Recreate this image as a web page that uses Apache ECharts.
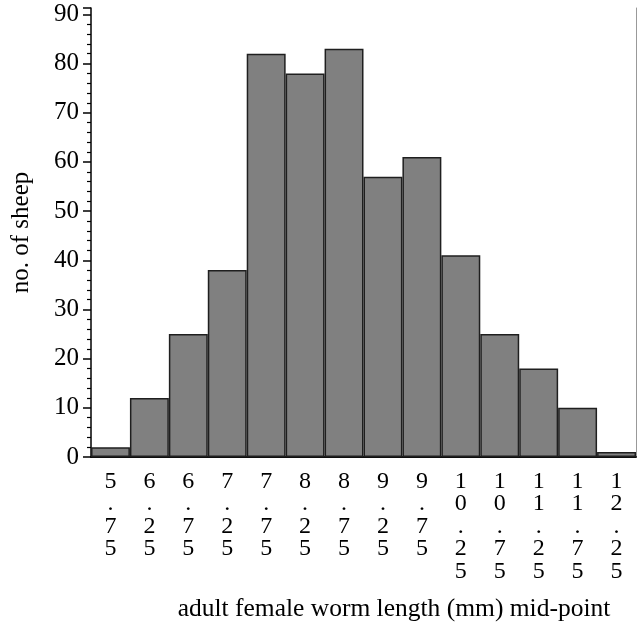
<!DOCTYPE html>
<html>
<head>
<meta charset="utf-8">
<script src="https://cdn.jsdelivr.net/npm/echarts@6/dist/echarts.min.js"></script>
<style>
  html, body { margin: 0; padding: 0; background: #fff; }
  #chart { width: 640px; height: 625px; }
</style>
</head>
<body>
<div id="chart"></div>
<script>
const categories = ['5.75', '6.25', '6.75', '7.25', '7.75', '8.25', '8.75',
  '9.25', '9.75', '10.25', '10.75', '11.25', '11.75', '12.25']
const sheepCounts = [2, 12, 25, 38, 82, 78, 83, 57, 61, 41, 25, 18, 10, 1]
const yTicks = [0, 10, 20, 30, 40, 50, 60, 70, 80, 90]

const serif = 'Liberation Serif'
const chart = echarts.init(document.getElementById('chart'))

chart.setOption({
  animation: false,
  textStyle: { fontFamily: serif },
  title: {
    text: 'adult female worm length (mm) mid-point',
    left: 389,
    top: 591,
    textAlign: 'center',
    textStyle: { fontFamily: serif, fontSize: 25.5, fontWeight: 'normal', color: '#000' }
  },
  grid: { left: 91, right: 4, top: 8, bottom: 168 },
  xAxis: [{
    type: 'category',
    data: categories,
    boundaryGap: true,
    axisLine: { lineStyle: { color: '#000', width: 1.5 } },
    axisTick: { show: false },
    axisLabel: {
      color: '#000',
      fontSize: 24,
      lineHeight: 22.5,
      margin: 13,
      interval: 0,
      verticalAlign: 'top',
      formatter: v => v.split('').join('\n')
    }
  }, {
    type: 'category',
    data: categories,
    position: 'top',
    axisLine: { lineStyle: { color: '#000', width: 1.5 } },
    axisTick: { show: false },
    axisLabel: { show: false }
  }],
  yAxis: [{
    type: 'value',
    min: 0,
    max: 91.3,
    interval: 10,
    name: 'no. of sheep',
    nameLocation: 'middle',
    nameGap: 57,
    nameTextStyle: { fontFamily: serif, fontSize: 25, color: '#000' },
    axisLine: { show: true, lineStyle: { color: '#000', width: 1.5 } },
    axisTick: { show: true, inside: false, length: 8, lineStyle: { color: '#000', width: 1.5 } },
    minorTick: { show: true, splitNumber: 5, length: 4, lineStyle: { color: '#000', width: 1.2 } },
    axisLabel: {
      color: '#000',
      fontSize: 25,
      margin: 12,
      showMaxLabel: true,
      formatter: v => (yTicks.includes(v) ? String(v) : '')
    },
    splitLine: { show: false }
  }, {
    type: 'value',
    min: 0,
    max: 91.3,
    position: 'right',
    axisLine: { show: true, lineStyle: { color: '#999', width: 1 } },
    axisTick: { show: false },
    axisLabel: { show: false },
    splitLine: { show: false }
  }],
  series: [{
    name: 'no. of sheep',
    type: 'bar',
    data: sheepCounts,
    barCategoryGap: '0%',
    itemStyle: {
      color: '#808080',
      borderColor: '#1f1f1f',
      borderWidth: 1.5
    }
  }]
})
</script>
</body>
</html>
